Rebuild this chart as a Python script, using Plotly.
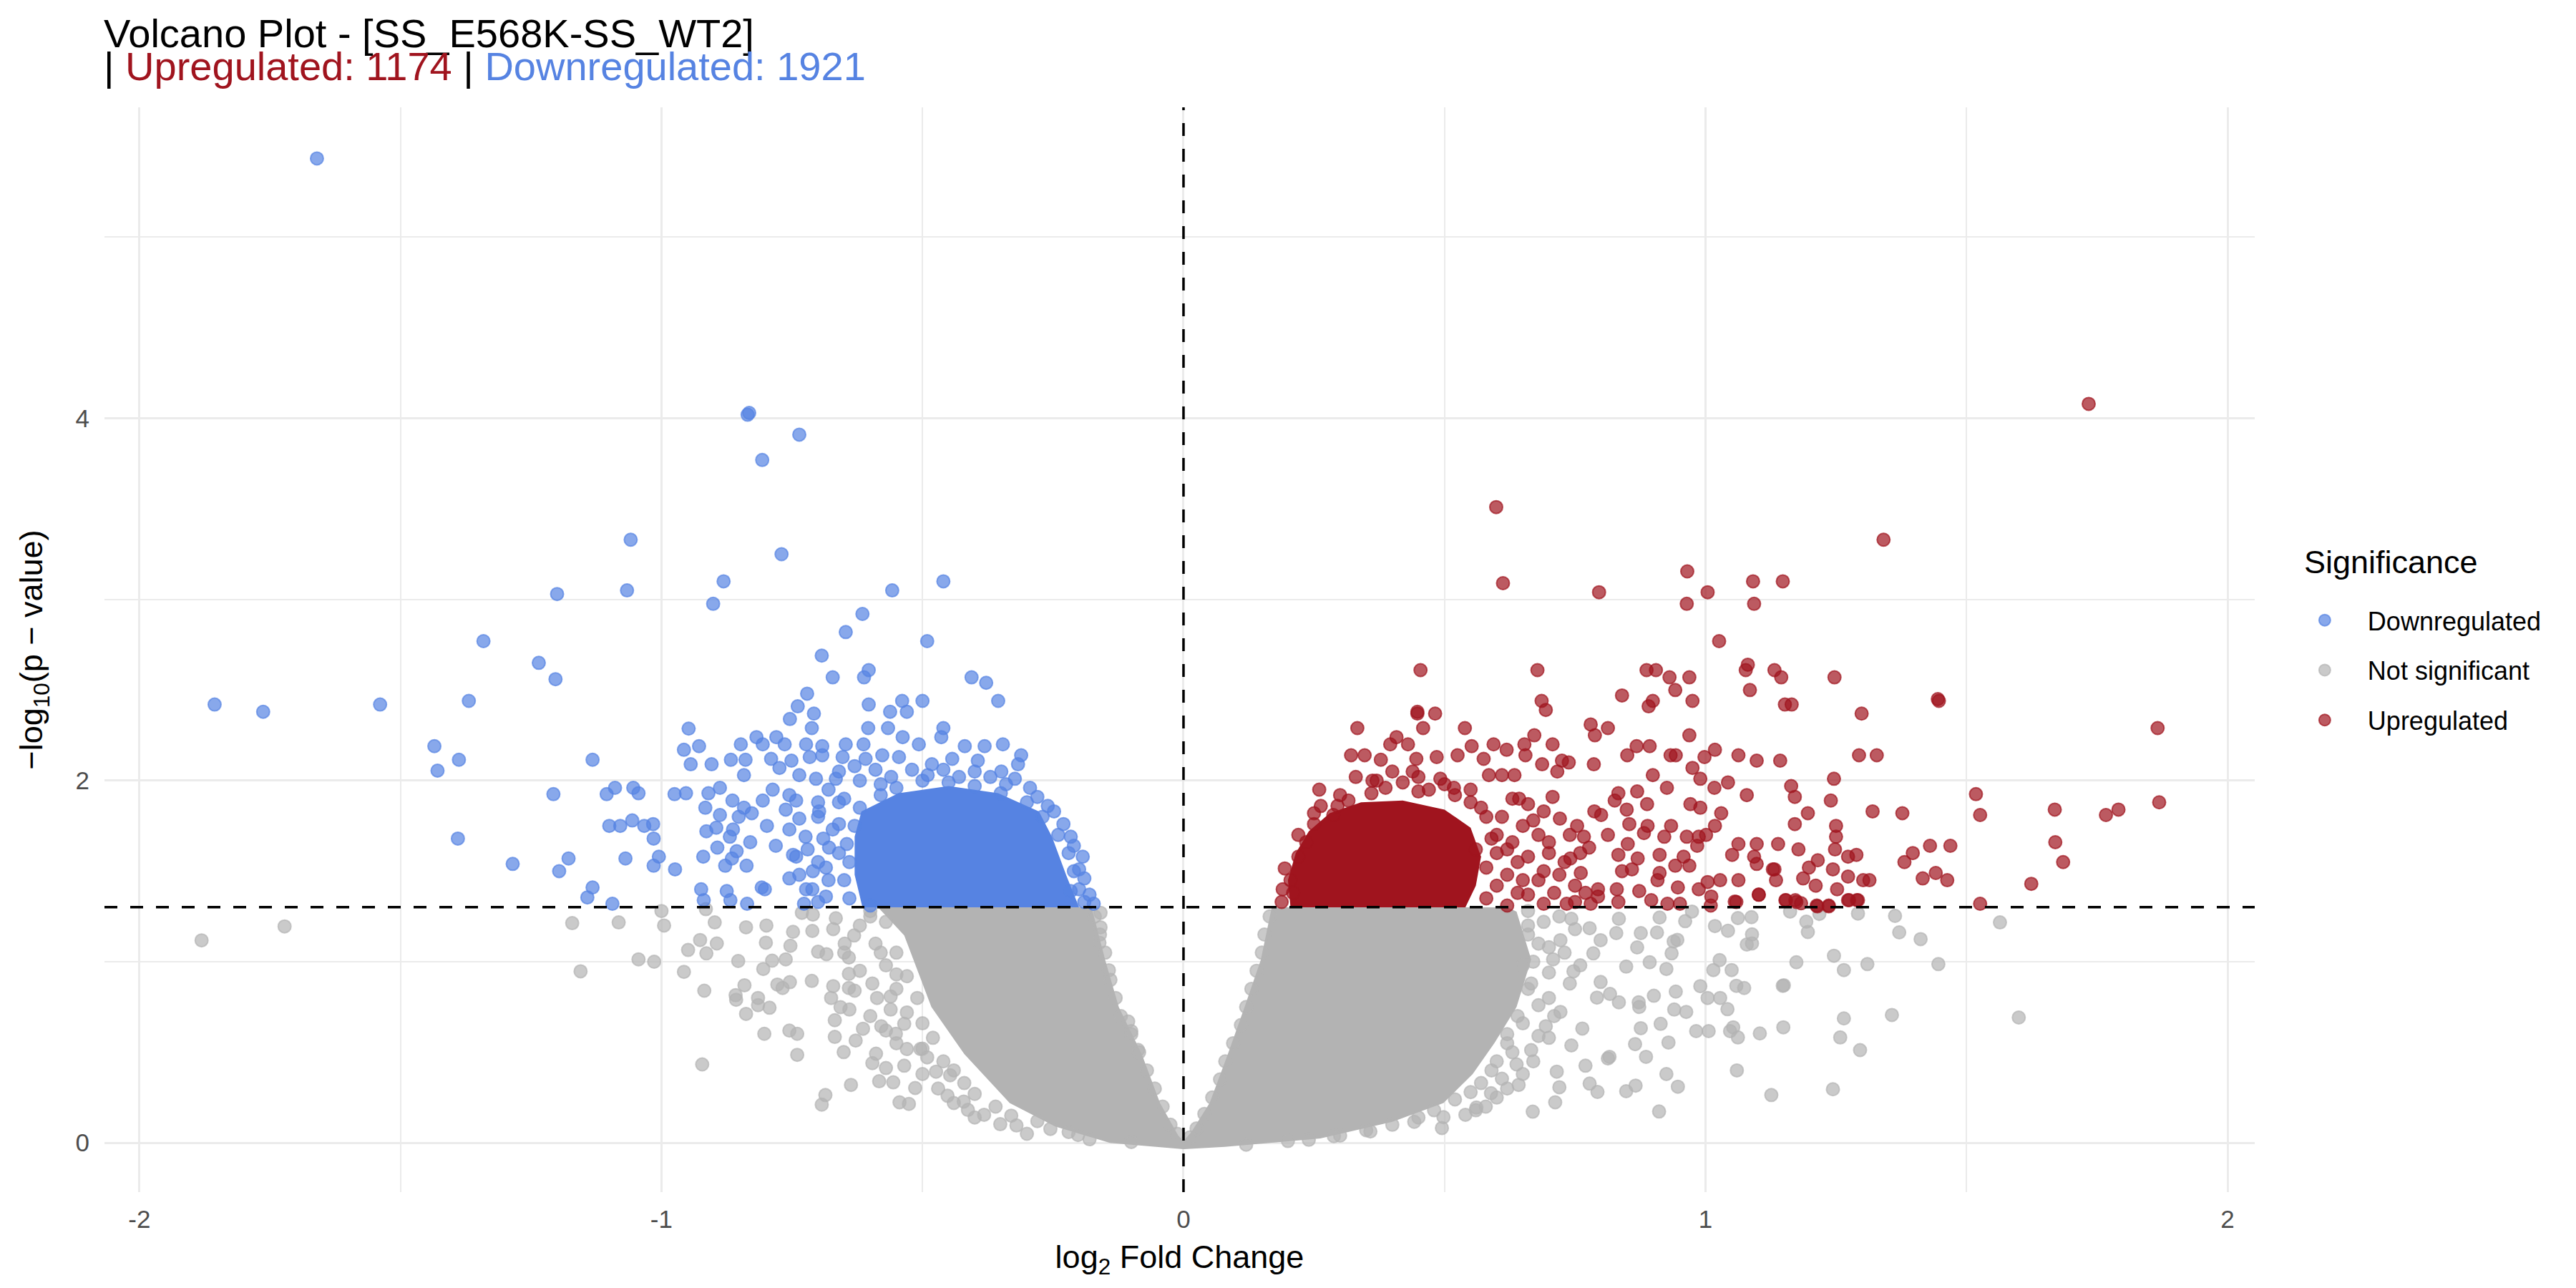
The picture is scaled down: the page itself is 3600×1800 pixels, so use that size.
import plotly.graph_objects as go

# ---- values ----
title_text = "Volcano Plot - [SS_E568K-SS_WT2]"
n_up = 1174
n_down = 1921
p_cut = 1.301          # -log10(0.05)
x_ticks = [-2, -1, 0, 1, 2]
x_ticklabels = ["-2", "-1", "0", "1", "2"]
y_ticks = [0, 2, 4]
y_ticklabels = ["0", "2", "4"]

# Downregulated genes (log2FC, -log10 p)
down_pts = [
    (-1.66, 5.435), (-0.835, 4.02), (-0.832, 4.03), (-0.736, 3.91), (-0.807, 3.77),
    (-1.059, 3.33), (-0.77, 3.25), (-1.2, 3.03), (-1.066, 3.05), (-0.881, 3.10),
    (-0.46, 3.10), (-0.558, 3.05), (-0.901, 2.976), (-0.615, 2.92), (-0.647, 2.82),
    (-1.341, 2.77), (-0.491, 2.77), (-0.693, 2.69), (-1.235, 2.65), (-1.203, 2.56),
    (-0.672, 2.57), (-0.612, 2.57), (-0.603, 2.61), (-0.406, 2.57), (-0.378, 2.54),
    (-1.856, 2.42), (-1.763, 2.38), (-1.539, 2.42), (-1.369, 2.44), (-0.721, 2.48),
    (-0.355, 2.44), (-0.5, 2.44), (-0.539, 2.44), (-0.603, 2.42), (-0.562, 2.38),
    (-0.53, 2.38), (-0.739, 2.41), (-0.708, 2.37), (-0.754, 2.34), (-0.712, 2.29),
    (-0.604, 2.29), (-0.566, 2.29), (-0.46, 2.29), (-0.948, 2.287), (-0.538, 2.24),
    (-0.464, 2.24), (-1.435, 2.19), (-0.957, 2.17), (-0.928, 2.19), (-0.848, 2.20),
    (-0.818, 2.24), (-0.78, 2.24), (-0.806, 2.20), (-0.764, 2.20), (-0.723, 2.20),
    (-0.692, 2.19), (-0.647, 2.20), (-0.613, 2.20), (-0.507, 2.20), (-0.419, 2.19),
    (-0.381, 2.19), (-0.346, 2.20), (-1.388, 2.115), (-1.429, 2.055), (-1.132, 2.115),
    (-0.944, 2.09), (-0.904, 2.09), (-0.867, 2.115), (-0.839, 2.115), (-0.79, 2.12),
    (-0.751, 2.11), (-0.716, 2.13), (-0.692, 2.14), (-0.653, 2.13), (-0.609, 2.12),
    (-0.577, 2.14), (-0.545, 2.13), (-0.482, 2.09), (-0.443, 2.12), (-0.394, 2.11),
    (-0.311, 2.14), (-0.317, 2.09), (-0.842, 2.03), (-0.774, 2.07), (-0.349, 2.05),
    (-0.323, 2.01), (-0.294, 1.96), (-1.207, 1.925), (-1.105, 1.925), (-1.089, 1.96),
    (-1.054, 1.96), (-1.044, 1.93), (-0.975, 1.925), (-0.953, 1.93), (-0.91, 1.93),
    (-0.888, 1.96), (-0.864, 1.89), (-0.806, 1.89), (-0.787, 1.95), (-0.755, 1.92),
    (-0.916, 1.85), (-0.842, 1.85), (-0.827, 1.82), (-0.852, 1.80), (-0.888, 1.81),
    (-1.056, 1.78), (-1.079, 1.75), (-1.1, 1.75), (-1.033, 1.75), (-1.016, 1.76),
    (-1.015, 1.68), (-0.914, 1.72), (-0.895, 1.74), (-0.863, 1.73), (-0.869, 1.69),
    (-0.83, 1.66), (-0.798, 1.75), (-0.762, 1.84), (-0.755, 1.73), (-0.781, 1.64),
    (-1.39, 1.68), (-1.285, 1.54), (-1.178, 1.57), (-1.196, 1.50), (-1.069, 1.57),
    (-1.005, 1.58), (-1.015, 1.53), (-0.974, 1.51), (-0.92, 1.58), (-0.893, 1.63),
    (-0.856, 1.61), (-0.865, 1.57), (-0.878, 1.53), (-0.837, 1.53), (-0.748, 1.59),
    (-0.755, 1.46), (-1.132, 1.41), (-1.142, 1.355), (-1.094, 1.32), (-0.924, 1.40),
    (-0.919, 1.34), (-0.875, 1.39), (-0.868, 1.34), (-0.836, 1.32), (-0.808, 1.41),
    (-0.802, 1.40), (-0.727, 1.32), (-0.723, 1.40), (-0.216, 1.69), (-0.193, 1.58),
    (-0.2, 1.51), (-0.172, 1.32), (-0.248, 1.83), (-0.216, 1.39), (-0.736, 2.03),
    (-0.704, 2.01), (-0.666, 2.01), (-0.742, 1.89), (-0.736, 1.79), (-0.724, 1.69),
    (-0.742, 1.58), (-0.736, 1.48), (-0.711, 1.40), (-0.685, 1.36), (-0.698, 1.83),
    (-0.672, 1.73), (-0.679, 1.63), (-0.685, 1.52), (-0.55, 1.96), (-0.5, 2.0),
    (-0.45, 1.99), (-0.40, 1.97), (-0.35, 1.93), (-0.3, 1.88), (-0.27, 1.8),
    (-0.24, 1.7), (-0.22, 1.6), (-0.21, 1.5), (-0.2, 1.4), (-0.19, 1.33),
    (-0.64, 1.35), (-0.65, 1.45), (-0.64, 1.55), (-0.645, 1.65), (-0.63, 1.75),
    (-0.62, 1.85), (-0.58, 1.92), (-0.66, 2.05), (-0.63, 2.08), (-0.59, 2.06),
    (-0.56, 2.02), (-0.52, 2.06), (-0.49, 2.03), (-0.46, 2.06), (-0.43, 2.02),
    (-0.40, 2.05), (-0.37, 2.02), (-0.34, 1.98), (-0.62, 2.0), (-0.58, 1.98),
    (-0.68, 1.95), (-0.65, 1.9), (-0.70, 1.88), (-0.70, 1.33), (-0.68, 1.45),
    (-0.70, 1.55), (-0.66, 1.60), (-0.69, 1.68), (-0.66, 1.76), (-0.70, 1.80),
    (-0.66, 1.88), (-0.72, 1.62), (-0.71, 1.50), (-0.28, 1.91), (-0.26, 1.86),
    (-0.23, 1.76), (-0.21, 1.64), (-0.19, 1.46), (-0.18, 1.37), (-0.60, 1.31),
]

# Upregulated genes
up_pts = [
    (1.734, 4.08), (0.599, 3.51), (1.341, 3.33), (0.612, 3.09), (0.796, 3.04),
    (0.965, 3.155), (1.004, 3.04), (0.964, 2.976), (1.091, 3.10), (1.093, 2.976),
    (1.148, 3.10), (1.026, 2.77), (0.454, 2.61), (0.678, 2.61), (0.887, 2.61),
    (0.905, 2.61), (0.931, 2.57), (0.969, 2.57), (1.081, 2.64), (1.077, 2.61),
    (1.132, 2.61), (1.145, 2.57), (1.247, 2.57), (0.942, 2.50), (1.085, 2.50),
    (0.686, 2.44), (0.694, 2.39), (0.84, 2.47), (0.899, 2.44), (0.891, 2.41),
    (0.975, 2.44), (1.152, 2.42), (1.165, 2.42), (1.447, 2.44), (1.445, 2.45),
    (1.299, 2.37), (1.866, 2.29), (0.448, 2.37), (0.448, 2.38), (0.482, 2.37),
    (0.333, 2.29), (0.459, 2.29), (0.539, 2.29), (0.78, 2.31), (0.788, 2.25),
    (0.813, 2.29), (0.672, 2.25), (0.969, 2.25), (0.408, 2.24), (0.396, 2.20),
    (0.43, 2.20), (0.594, 2.20), (0.653, 2.20), (0.707, 2.20), (0.868, 2.19),
    (0.893, 2.19), (0.321, 2.14), (0.347, 2.14), (0.378, 2.115), (0.446, 2.12),
    (0.485, 2.13), (0.525, 2.14), (0.552, 2.19), (0.575, 2.12), (0.619, 2.17),
    (0.655, 2.14), (0.687, 2.09), (0.725, 2.11), (0.738, 2.10), (0.786, 2.09),
    (0.85, 2.14), (0.933, 2.14), (0.943, 2.14), (0.998, 2.13), (1.018, 2.17),
    (1.063, 2.14), (1.098, 2.11), (1.143, 2.11), (1.294, 2.14), (1.328, 2.14),
    (0.362, 2.00), (0.439, 2.05), (0.585, 2.03), (0.634, 2.03), (0.716, 2.05),
    (0.899, 2.03), (0.975, 2.07), (0.99, 2.01), (1.017, 1.96), (1.043, 1.99),
    (0.926, 1.96), (0.869, 1.94), (1.079, 1.92), (1.164, 1.97), (1.171, 1.91),
    (1.246, 2.01), (1.24, 1.89), (1.518, 1.925), (1.526, 1.81), (1.669, 1.84),
    (1.767, 1.81), (1.791, 1.84), (1.869, 1.88), (1.67, 1.66), (1.685, 1.55),
    (1.624, 1.43), (1.526, 1.32), (1.469, 1.64), (1.43, 1.64), (1.397, 1.60),
    (1.381, 1.55), (1.416, 1.46), (1.441, 1.49), (1.463, 1.45), (1.377, 1.82),
    (1.32, 1.83), (1.196, 1.82), (1.171, 1.76), (1.25, 1.75), (1.25, 1.69),
    (1.139, 1.65), (1.178, 1.62), (1.098, 1.65), (1.063, 1.65), (1.051, 1.59),
    (1.093, 1.58), (1.098, 1.54), (1.129, 1.51), (1.215, 1.56), (1.198, 1.52),
    (1.244, 1.51), (1.273, 1.58), (1.289, 1.59), (1.248, 1.62), (1.187, 1.46),
    (1.211, 1.42), (1.252, 1.40), (1.273, 1.47), (1.302, 1.45), (1.314, 1.45),
    (1.135, 1.45), (1.132, 1.51), (1.102, 1.37), (1.153, 1.34), (1.174, 1.33),
    (1.213, 1.31), (1.236, 1.31), (1.273, 1.34), (1.29, 1.34), (1.059, 1.33),
    (1.011, 1.36), (1.028, 1.45), (1.063, 1.45), (1.004, 1.44), (0.969, 1.53),
    (0.984, 1.64), (0.987, 1.69), (1.001, 1.70), (1.018, 1.75), (0.964, 1.69),
    (1.03, 1.82), (0.99, 1.85), (0.971, 1.87), (0.934, 1.75), (0.921, 1.69),
    (0.889, 1.75), (0.888, 1.87), (0.849, 1.84), (0.826, 1.89), (0.833, 1.93),
    (0.854, 1.76), (0.882, 1.71), (0.851, 1.65), (0.833, 1.59), (0.87, 1.57),
    (0.912, 1.59), (0.942, 1.53), (0.958, 1.58), (0.912, 1.49), (0.859, 1.51),
    (0.84, 1.50), (0.908, 1.45), (0.947, 1.41), (0.987, 1.40), (0.873, 1.39),
    (0.83, 1.40), (0.794, 1.40), (0.794, 1.36), (0.833, 1.33), (0.896, 1.34),
    (0.927, 1.32), (0.951, 1.32), (1.01, 1.31), (0.787, 1.83), (0.8, 1.81),
    (0.813, 1.70), (0.767, 1.69), (0.754, 1.75), (0.777, 1.63), (0.741, 1.57),
    (0.761, 1.49), (0.75, 1.42), (0.78, 1.32), (0.734, 1.32), (0.707, 1.91),
    (0.69, 1.83), (0.721, 1.79), (0.194, 1.515), (0.21, 1.38), (0.188, 1.33),
    (0.235, 1.66), (0.263, 1.86), (0.295, 1.86), (0.316, 1.89), (0.287, 1.81),
    (0.387, 1.96), (0.42, 1.99), (0.492, 2.01), (0.518, 1.96), (0.61, 2.03),
    (0.643, 1.90), (0.66, 1.87), (1.292, 1.34), (1.275, 1.34), (1.236, 1.306),
    (1.214, 1.306), (1.154, 1.34), (1.172, 1.34), (1.183, 1.323), (1.102, 1.37),
    (1.056, 1.332), (0.58, 1.80), (0.6, 1.70), (0.62, 1.62), (0.64, 1.55),
    (0.65, 1.45), (0.66, 1.37), (0.62, 1.31), (0.57, 1.85), (0.68, 1.70),
    (0.70, 1.60), (0.69, 1.50), (0.71, 1.38), (0.67, 1.78), (0.36, 1.93),
    (0.45, 1.94), (0.25, 1.76), (0.22, 1.58), (0.205, 1.45), (0.58, 1.35),
    (0.60, 1.42), (0.62, 1.48), (0.58, 1.52), (0.60, 1.60), (0.63, 1.66),
    (0.59, 1.68), (0.66, 1.58), (0.68, 1.45), (0.72, 1.48), (0.73, 1.55),
    (0.70, 1.66), (0.74, 1.70), (0.76, 1.60), (0.77, 1.38), (0.75, 1.33),
    (0.69, 1.32), (0.64, 1.38), (0.56, 1.62), (0.65, 1.75), (0.61, 1.80),
    (0.55, 1.88), (0.52, 1.92), (0.47, 1.95), (0.30, 1.92), (0.25, 1.82),
    (0.22, 1.70), (0.19, 1.40), (0.26, 1.95), (0.33, 2.02), (0.40, 2.05),
    (0.37, 2.0), (0.45, 2.02), (0.50, 1.98), (0.55, 1.95), (0.63, 1.90),
]

# Not significant genes (outside the solid core)
ns_pts = [
    (-1.881, 1.118), (-1.722, 1.195), (-1.171, 1.213), (-1.155, 0.947), (-1.082, 1.217),
    (-0.995, 1.20), (-1.0, 1.28), (-0.915, 1.29), (-0.898, 1.217), (-0.838, 1.19),
    (-0.799, 1.20), (-0.748, 1.165), (-0.711, 1.17), (-0.671, 1.18), (-0.666, 1.24),
    (-0.731, 1.27), (-0.71, 1.26), (-1.044, 1.013), (-1.014, 1.0), (-0.957, 0.944),
    (-0.949, 1.065), (-0.926, 1.12), (-0.914, 1.046), (-0.894, 1.101), (-0.853, 1.004),
    (-0.8, 1.105), (-0.753, 1.088), (-0.788, 1.006), (-0.762, 1.013), (-0.805, 0.96),
    (-0.7, 1.055), (-0.684, 1.042), (-0.641, 1.023), (-0.918, 0.84), (-0.841, 0.87),
    (-0.858, 0.815), (-0.857, 0.79), (-0.815, 0.80), (-0.815, 0.76), (-0.793, 0.746),
    (-0.838, 0.712), (-0.778, 0.874), (-0.768, 0.855), (-0.754, 0.887), (-0.712, 0.894),
    (-0.671, 0.865), (-0.675, 0.80), (-0.641, 0.933), (-0.641, 0.855), (-0.63, 0.84),
    (-0.657, 0.749), (-0.64, 0.736), (-0.668, 0.677), (-0.803, 0.602), (-0.755, 0.62),
    (-0.74, 0.602), (-0.668, 0.585), (-0.651, 0.501), (-0.628, 0.565), (-0.614, 0.63),
    (-0.579, 0.644), (-0.551, 0.602), (-0.74, 0.486), (-0.922, 0.433), (-0.637, 0.32),
    (-0.686, 0.264), (-0.693, 0.211), (-0.544, 0.224), (-0.526, 0.215), (-0.514, 0.303),
    (-0.583, 0.34), (-0.556, 0.334), (-0.57, 0.413), (-0.535, 0.426), (-0.596, 0.44),
    (-0.589, 0.492), (-0.53, 0.518), (-0.504, 0.518), (-0.491, 0.472), (-0.474, 0.393),
    (-0.447, 0.373), (-0.452, 0.26), (-0.421, 0.228), (-0.413, 0.182), (-0.382, 0.155),
    (-0.351, 0.103), (-0.32, 0.096), (-0.255, 0.077), (-0.202, 0.043), (-0.561, 0.808),
    (-0.587, 0.80), (-0.596, 0.88), (-0.561, 0.736), (-0.535, 0.657), (-0.631, 1.145),
    (-0.649, 1.10), (-0.159, 1.27), (-0.159, 1.19), (-0.161, 1.105), (-0.143, 0.953),
    (-0.106, 0.67), (-0.10, 0.617), (-0.087, 0.513), (-0.60, 1.25), (-0.58, 1.05),
    (-0.55, 0.93), (-0.60, 1.28), (-0.62, 1.20), (-0.57, 1.22), (-0.59, 1.10),
    (-0.55, 1.05), (-0.57, 0.98), (-0.53, 0.92), (-0.55, 0.85), (-0.51, 0.80),
    (-0.53, 0.72), (-0.50, 0.66), (-0.48, 0.58), (-0.50, 0.52), (-0.46, 0.45),
    (-0.44, 0.40), (-0.42, 0.33), (-0.40, 0.27), (-0.36, 0.20), (-0.33, 0.15),
    (-0.28, 0.12), (-0.22, 0.06), (-0.65, 1.05), (-0.62, 0.95), (-0.60, 0.70),
    (-0.57, 0.62), (-0.55, 0.55), (-0.50, 0.38), (-0.47, 0.30), (-0.44, 0.22),
    (-0.40, 0.14), (-0.30, 0.05), (-0.18, 0.02), (-0.10, 0.005), (-0.17, 1.25),
    (-0.16, 1.15), (-0.15, 1.05), (-0.14, 0.90), (-0.13, 0.80), (-0.12, 0.70),
    (-0.10, 0.60), (-0.085, 0.50), (-0.07, 0.40), (-0.055, 0.30), (-0.04, 0.20),
    (-0.025, 0.10), (-0.012, 0.05),
    (0.165, 1.25), (0.155, 1.15), (0.15, 1.05), (0.14, 0.95), (0.13, 0.85),
    (0.12, 0.75), (0.11, 0.65), (0.095, 0.55), (0.08, 0.45), (0.07, 0.35),
    (0.055, 0.25), (0.04, 0.16), (0.025, 0.08), (0.012, 0.03), (0.66, 1.28),
    (0.69, 1.22), (0.66, 1.15), (0.70, 1.08), (0.67, 1.0), (0.70, 0.94),
    (0.66, 0.85), (0.68, 0.76), (0.65, 0.66), (0.62, 0.60), (0.63, 0.50),
    (0.60, 0.45), (0.59, 0.40), (0.57, 0.33), (0.55, 0.28), (0.52, 0.24),
    (0.48, 0.18), (0.45, 0.14), (0.40, 0.10), (0.35, 0.07), (0.30, 0.04),
    (0.20, 0.01), (0.12, -0.01), (0.72, 1.25), (0.75, 1.18), (0.73, 1.05),
    (0.76, 0.98), (0.74, 0.88), (0.71, 0.70), (0.70, 0.58), (0.67, 0.45),
    (0.65, 0.38), (0.62, 0.30), (0.60, 0.25), (0.56, 0.18),
    (0.911, 0.173), (0.669, 0.172), (0.712, 0.224), (0.793, 0.281), (0.848, 0.285),
    (0.866, 0.316), (0.947, 0.31), (0.925, 0.38), (0.886, 0.475), (0.929, 0.554),
    (0.865, 0.545), (0.94, 0.736), (0.963, 0.723), (0.943, 0.835), (0.901, 0.812),
    (0.873, 0.75), (0.872, 0.776), (0.914, 0.657), (0.876, 0.633), (0.816, 0.475),
    (0.813, 0.466), (0.77, 0.426), (0.778, 0.327), (0.72, 0.307), (0.642, 0.32),
    (0.579, 0.20), (0.561, 0.195), (0.54, 0.155), (0.495, 0.082), (0.935, 1.046),
    (0.939, 1.112), (0.946, 1.121), (0.893, 0.997), (0.925, 0.96), (0.848, 0.973),
    (0.869, 1.079), (0.829, 1.158), (0.876, 1.158), (0.907, 1.161), (0.961, 1.224),
    (0.974, 1.277), (0.912, 1.244), (0.799, 0.888), (0.817, 0.822), (0.834, 0.776),
    (0.792, 0.802), (0.747, 0.947), (0.785, 1.046), (0.799, 1.119), (0.778, 1.185),
    (0.743, 1.237), (0.834, 1.237), (0.722, 0.723), (0.764, 0.631), (0.743, 0.538),
    (0.715, 0.393), (0.666, 0.512), (0.638, 0.433), (0.61, 0.354), (0.589, 0.274),
    (0.498, 0.142), (0.442, 0.116), (0.358, 0.063), (0.288, 0.037), (0.24, 0.017),
    (0.694, 0.644), (0.68, 0.59), (0.70, 0.80), (0.666, 0.88), (0.708, 1.013),
    (0.722, 1.119), (0.66, 1.20), (0.68, 1.10), (0.65, 0.98), (0.64, 0.70),
    (0.62, 0.55),
    (1.564, 1.217), (1.60, 0.692), (1.363, 1.253), (1.371, 1.162), (1.412, 1.125),
    (1.446, 0.987), (1.31, 0.987), (1.246, 1.033), (1.265, 0.954), (1.292, 1.266),
    (1.357, 0.706), (1.265, 0.687), (1.258, 0.582), (1.296, 0.512), (1.244, 0.296),
    (1.126, 0.264), (1.06, 0.40), (1.149, 0.638), (1.104, 0.604), (1.062, 0.582),
    (1.047, 0.617), (1.053, 0.638), (1.006, 0.617), (0.982, 0.617), (1.042, 0.738),
    (1.028, 0.80), (1.004, 0.80), (0.99, 0.865), (1.059, 0.867), (1.074, 0.855),
    (1.148, 0.867), (1.15, 0.87), (1.015, 0.954), (1.05, 0.954), (1.027, 1.009),
    (1.174, 0.997), (1.079, 1.095), (1.089, 1.101), (1.089, 1.151), (1.043, 1.171),
    (1.018, 1.197), (1.062, 1.241), (1.088, 1.246), (1.196, 1.164), (1.193, 1.221),
    (1.162, 1.277), (1.218, 1.264),
]

# outline of the solid (fully overlapped) cores of the point clouds
down_core = [(-0.615, 1.30), (-0.63, 1.48), (-0.63, 1.69), (-0.617, 1.83), (-0.546, 1.93),
             (-0.45, 1.97), (-0.355, 1.93), (-0.277, 1.83), (-0.252, 1.69), (-0.225, 1.48),
             (-0.20, 1.30)]
up_core = [(0.205, 1.30), (0.20, 1.45), (0.215, 1.60), (0.24, 1.72), (0.28, 1.82),
           (0.34, 1.88), (0.42, 1.89), (0.50, 1.84), (0.55, 1.74), (0.57, 1.58),
           (0.56, 1.42), (0.54, 1.30)]
ns_core = [(-0.585, 1.30), (-0.535, 1.145), (-0.483, 0.75), (-0.42, 0.49), (-0.333, 0.22),
           (-0.246, 0.09), (-0.141, 0.0), (0.0, -0.035), (0.079, -0.022), (0.262, 0.024),
           (0.40, 0.116), (0.498, 0.22), (0.554, 0.38), (0.596, 0.553), (0.638, 0.75),
           (0.666, 1.013), (0.638, 1.277), (0.62, 1.30), (0.169, 1.30), (0.148, 1.01),
           (0.117, 0.75), (0.085, 0.49), (0.05, 0.22), (0.015, 0.06), (0.0, 0.01),
           (-0.01, 0.04), (-0.045, 0.22), (-0.08, 0.49), (-0.124, 0.75), (-0.15, 1.01),
           (-0.176, 1.30)]

BLUE = "86,131,226"
RED = "160,20,30"
GREY = "179,179,179"
FONT = "Liberation Sans, Arial, Helvetica, sans-serif"


def core_trace(pts, rgb):
    return go.Scatter(x=[p[0] for p in pts], y=[p[1] for p in pts], mode="lines",
                      fill="toself", fillcolor=f"rgb({rgb})", line=dict(width=0),
                      hoverinfo="skip", showlegend=False)


def point_trace(pts, rgb, name, rank):
    return go.Scatter(x=[p[0] for p in pts], y=[p[1] for p in pts], mode="markers",
                      name=name, legendgroup=name, legendrank=rank,
                      marker=dict(size=18, color=f"rgba({rgb},0.7)",
                                  line=dict(color=f"rgba({rgb},0.7)", width=2)))


fig = go.Figure()
fig.add_trace(core_trace(ns_core, GREY))
fig.add_trace(point_trace(ns_pts, GREY, "Not significant", 2))
fig.add_trace(core_trace(down_core, BLUE))
fig.add_trace(point_trace(down_pts, BLUE, "Downregulated", 1))
fig.add_trace(core_trace(up_core, RED))
fig.add_trace(point_trace(up_pts, RED, "Upregulated", 3))

# threshold lines
fig.add_shape(type="line", xref="x", yref="paper", x0=0, x1=0, y0=0, y1=1,
              line=dict(color="black", width=3.5, dash="18px,18px"))
fig.add_shape(type="line", xref="paper", yref="y", x0=0, x1=1, y0=p_cut, y1=p_cut,
              line=dict(color="black", width=3.5, dash="18px,18px"))

# title in two lines
fig.add_annotation(text=title_text, xref="paper", yref="paper", x=-0.001, y=1.068,
                   xanchor="left", yanchor="middle", showarrow=False,
                   font=dict(size=56, color="black", family=FONT))
fig.add_annotation(text=f"| <span style='color:rgb({RED})'>Upregulated: {n_up}</span>"
                        f" | <span style='color:rgb({BLUE})'>Downregulated: {n_down}</span>",
                   xref="paper", yref="paper", x=-0.001, y=1.038,
                   xanchor="left", yanchor="middle", showarrow=False,
                   font=dict(size=56, color="black", family=FONT))

# legend heading
fig.add_annotation(text="Significance", xref="paper", yref="paper", x=1.0223, y=0.5806,
                   xanchor="left", yanchor="middle", showarrow=False,
                   font=dict(size=45, color="black", family=FONT))

grid = "#EBEBEB"
fig.update_layout(
    width=3600, height=1800,
    margin=dict(l=138, r=457, t=142, b=142),
    paper_bgcolor="white", plot_bgcolor="white",
    font=dict(family=FONT, color="black"),
    showlegend=True,
    legend=dict(font=dict(size=36), x=1.0126, y=0.547, xanchor="left", yanchor="top",
                tracegroupgap=20, itemwidth=110, bgcolor="rgba(0,0,0,0)"),
    xaxis=dict(range=[-2.067, 2.052], tickvals=x_ticks, ticktext=x_ticklabels,
               showgrid=True, gridcolor=grid, gridwidth=3.2, zeroline=False,
               showline=False, ticks="", ticklabelstandoff=14, automargin=False,
               tickfont=dict(size=35, color="#4D4D4D"),
               minor=dict(dtick=0.5, tick0=0, showgrid=True, gridcolor=grid, gridwidth=1.6),
               title=dict(text="log<sub>2</sub> Fold Change", font=dict(size=45), standoff=18)),
    yaxis=dict(range=[-0.272, 5.717], tickvals=y_ticks, ticktext=y_ticklabels,
               showgrid=True, gridcolor=grid, gridwidth=3.2, zeroline=False,
               showline=False, ticks="", ticklabelstandoff=20, automargin=False,
               tickfont=dict(size=35, color="#4D4D4D"),
               minor=dict(dtick=1, tick0=0, showgrid=True, gridcolor=grid, gridwidth=1.6),
               title=dict(text="\u2212log<sub>10</sub>(p \u2212 value)", font=dict(size=45),
                          standoff=31)),
)

fig.write_html("out.html")
